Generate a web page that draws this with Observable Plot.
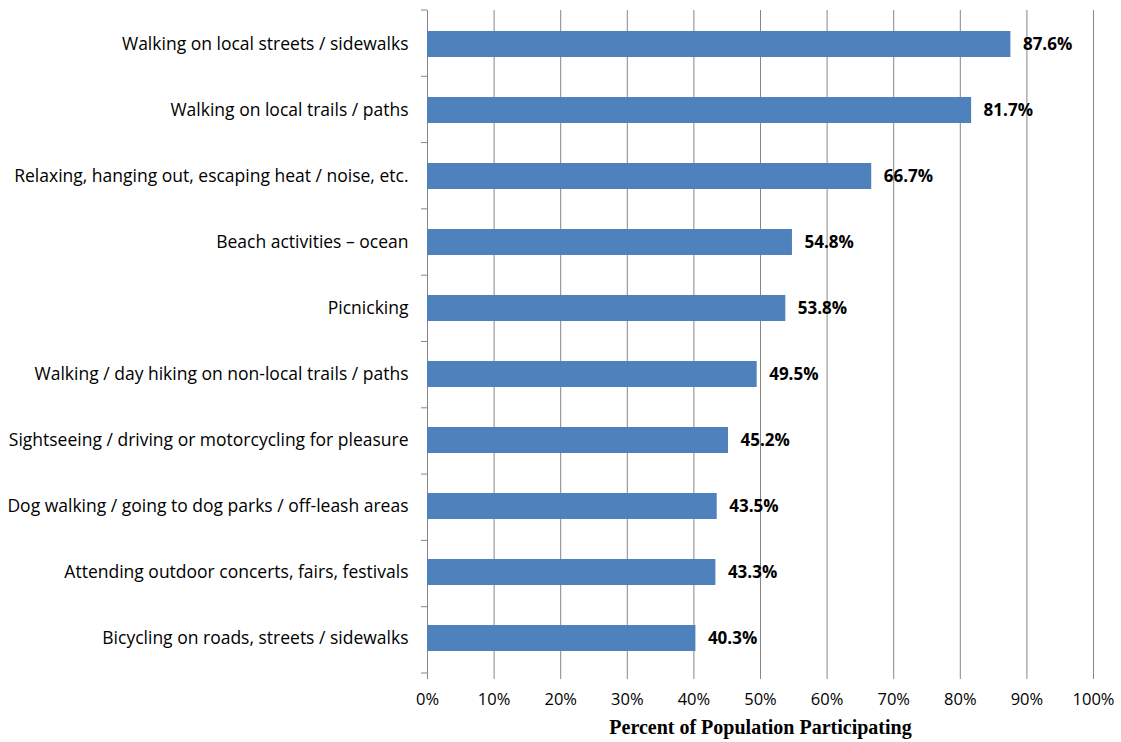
<!DOCTYPE html>
<html>
<head>
<meta charset="utf-8">
<script src="https://cdn.jsdelivr.net/npm/d3@7"></script>
<script src="https://cdn.jsdelivr.net/npm/@observablehq/plot@0.6"></script>
<style>
  html, body { margin: 0; padding: 0; background: #fff; }
  #chart svg { display: block; }
</style>
</head>
<body>
<div id="chart"></div>
<script>
const categories = [
  "Walking on local streets / sidewalks",
  "Walking on local trails / paths",
  "Relaxing, hanging out, escaping heat / noise, etc.",
  "Beach activities – ocean",
  "Picnicking",
  "Walking / day hiking on non-local trails / paths",
  "Sightseeing / driving or motorcycling for pleasure",
  "Dog walking / going to dog parks / off-leash areas",
  "Attending outdoor concerts, fairs, festivals",
  "Bicycling on roads, streets / sidewalks"
];
const values = [87.6, 81.7, 66.7, 54.8, 53.8, 49.5, 45.2, 43.5, 43.3, 40.3];
const xTicks = [0, 10, 20, 30, 40, 50, 60, 70, 80, 90, 100];
const xTickLabels = ["0%", "10%", "20%", "30%", "40%", "50%", "60%", "70%", "80%", "90%", "100%"];
const xTitle = "Percent of Population Participating";

const data = categories.map((c, i) => ({category: c, value: values[i]}));
const gridColor = "#868686";
const sansFont = "'Open Sans', Lato, sans-serif";

// category boundary ticks on the left axis
function boundaryTicks(index, scales, vals, dim) {
  const g = d3.create("svg:g");
  const n = categories.length;
  const top = dim.marginTop, bottom = dim.height - dim.marginBottom;
  const step = (bottom - top) / n;
  for (let k = 0; k <= n; k++) {
    const y = top + k * step;
    g.append("line")
      .attr("x1", dim.marginLeft - 6).attr("x2", dim.marginLeft)
      .attr("y1", y).attr("y2", y)
      .attr("stroke", gridColor).attr("stroke-width", 1);
  }
  return g.node();
}

const chart = Plot.plot({
  width: 1121,
  height: 742,
  marginLeft: 427,
  marginRight: 28,
  marginTop: 10,
  marginBottom: 69,
  style: {fontFamily: sansFont, fontSize: "16px", color: "#000", background: "#fff"},
  x: {domain: [0, 100]},
  y: {domain: categories, padding: 0.6, paddingOuter: 0.3, align: 0.5},
  marks: [
    Plot.ruleX(xTicks, {x: d => d, stroke: gridColor, strokeWidth: 1, strokeOpacity: 1}),
    Plot.barX(data, {y: "category", x: "value", fill: "#4F81BD"}),
    Plot.text(data, {
      y: "category", x: "value", text: d => d.value.toFixed(1) + "%",
      dx: 12, textAnchor: "start", fontWeight: "bold", fontSize: 17, fill: "#000"
    }),
    Plot.axisY({tickSize: 0, tickPadding: 19, label: null, fontSize: 17.5, fill: "#000"}),
    Plot.axisX({
      ticks: xTicks, tickFormat: (d) => xTickLabels[xTicks.indexOf(d)],
      tickSize: 6, tickPadding: 14, label: null, fontSize: 16.5, stroke: gridColor, strokeOpacity: 1, fill: "#000"
    }),
    boundaryTicks,
    Plot.text([xTitle], {
      text: d => d, frameAnchor: "bottom", dy: 60,
      fontFamily: "'Liberation Serif', 'Times New Roman', serif", fontWeight: "bold", fontSize: 20, fill: "#000"
    })
  ]
});

document.getElementById("chart").appendChild(chart);
</script>
</body>
</html>
